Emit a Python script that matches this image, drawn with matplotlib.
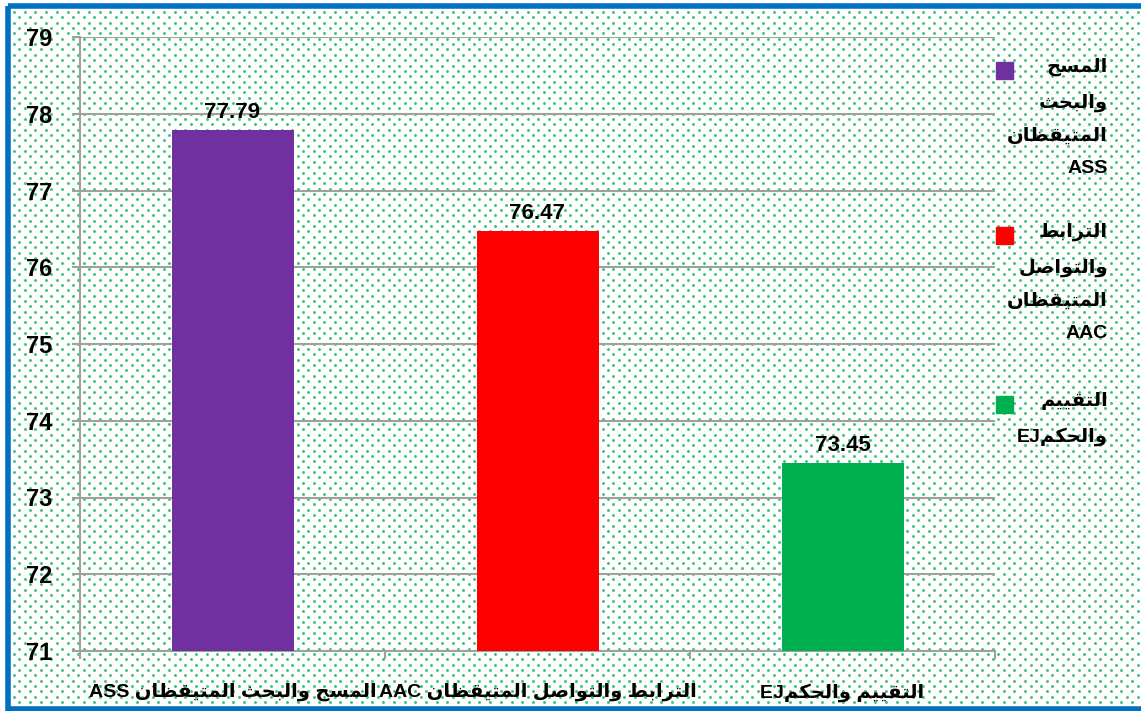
import re
import numpy as np
import matplotlib
matplotlib.use("Agg")
import matplotlib.pyplot as plt
from matplotlib.patches import Rectangle

# data
categories = ['المسح والبحث المتيقظان ASS',
              'الترابط والتواصل المتيقظان AAC',
              'التقييم والحكمEJ']
values = [77.79, 76.47, 73.45]
colors = ['#7030A0', '#FF0000', '#00B050']
legend_lines = [['المسح', 'والبحث', 'المتيقظان', 'ASS'],
                ['الترابط', 'والتواصل', 'المتيقظان', 'AAC'],
                ['التقييم', 'والحكمEJ']]
yticks = [71, 72, 73, 74, 75, 76, 77, 78, 79]

# minimal arabic shaping (isolated, final, initial, medial)
FORMS = {
    'ا': (0xFE8D, 0xFE8E, None, None),
    'ب': (0xFE8F, 0xFE90, 0xFE91, 0xFE92),
    'ت': (0xFE95, 0xFE96, 0xFE97, 0xFE98),
    'ث': (0xFE99, 0xFE9A, 0xFE9B, 0xFE9C),
    'ح': (0xFEA1, 0xFEA2, 0xFEA3, 0xFEA4),
    'ر': (0xFEAD, 0xFEAE, None, None),
    'س': (0xFEB1, 0xFEB2, 0xFEB3, 0xFEB4),
    'ص': (0xFEB9, 0xFEBA, 0xFEBB, 0xFEBC),
    'ط': (0xFEC1, 0xFEC2, 0xFEC3, 0xFEC4),
    'ظ': (0xFEC5, 0xFEC6, 0xFEC7, 0xFEC8),
    'ق': (0xFED5, 0xFED6, 0xFED7, 0xFED8),
    'ك': (0xFED9, 0xFEDA, 0xFEDB, 0xFEDC),
    'ل': (0xFEDD, 0xFEDE, 0xFEDF, 0xFEE0),
    'م': (0xFEE1, 0xFEE2, 0xFEE3, 0xFEE4),
    'ن': (0xFEE5, 0xFEE6, 0xFEE7, 0xFEE8),
    'و': (0xFEED, 0xFEEE, None, None),
    'ي': (0xFEF1, 0xFEF2, 0xFEF3, 0xFEF4),
}


def shape(s):
    out = []
    for i, ch in enumerate(s):
        f = FORMS.get(ch)
        if f is None:
            out.append(ch)
            continue
        prev = s[i - 1] if i > 0 else ''
        nxt = s[i + 1] if i + 1 < len(s) else ''
        jp = prev in FORMS and FORMS[prev][2] is not None
        jn = f[2] is not None and nxt in FORMS
        if jp and jn:
            out.append(chr(f[3]))
        elif jp:
            out.append(chr(f[1]))
        elif jn:
            out.append(chr(f[2]))
        else:
            out.append(chr(f[0]))
    return ''.join(out)


def visual(text):
    # rtl paragraph: reverse runs, latin runs keep their order
    runs = re.findall(r'[A-Za-z0-9.]+|[^A-Za-z0-9.]+', text)
    out = []
    for r in reversed(runs):
        if re.match(r'[A-Za-z0-9.]', r):
            out.append(r)
        else:
            out.append(shape(r)[::-1])
    return ''.join(out)


FONT = ['Liberation Sans', 'DejaVu Sans']
plt.rcParams['font.family'] = FONT
plt.rcParams['font.weight'] = 'bold'

W, H = 1141, 711
fig = plt.figure(figsize=(W / 100, H / 100), dpi=100)


def px(x, y):
    return x / W, 1 - y / H


# background: white with green dots and blue frame
bg = fig.add_axes([0, 0, 1, 1])
bg.set_xlim(0, W)
bg.set_ylim(H, 0)
bg.axis('off')
dx, dy = 10.7, 5.35
pts = []
for r, yy in enumerate(np.arange(12, H, dy)):
    xs = np.arange(14 + (r % 2) * dx / 2, W, dx)
    pts.append(np.column_stack([xs, np.full(len(xs), yy)]))
pts = np.vstack(pts)
bg.scatter(pts[:, 0], pts[:, 1], s=4.5, color='#3CC47C', linewidths=0, zorder=1)
bg.add_patch(Rectangle((7.5, 5.5), W + 10, 703, fill=False,
                       edgecolor='#0070C0', linewidth=4, zorder=2))

# main chart
l, b = px(80, 651)
r_, t = px(995, 37)
ax = fig.add_axes([l, b, r_ - l, t - b], facecolor='none')
x = np.arange(len(categories))
ax.bar(x, [v - 71 for v in values], bottom=71, width=0.4, color=colors, zorder=3)
for xi, v in zip(x, values):
    ax.annotate(f'{v:.2f}', (xi, v), xytext=(0, 5), textcoords='offset points',
                ha='center', va='bottom', fontsize=16, fontweight='bold')

ax.set_xlim(-0.5, len(categories) - 0.5)
ax.set_ylim(71, 79)
ax.set_yticks(yticks)
ax.set_yticklabels([str(v) for v in yticks], fontsize=17, fontweight='bold')
ax.set_xticks(x)
ax.set_xticklabels([visual(c) for c in categories], fontsize=14, fontweight='bold')
ax.set_xticks(np.arange(-0.5, len(categories)), minor=True)
ax.tick_params(axis='x', which='major', length=0, pad=23)
ax.tick_params(axis='x', which='minor', length=6, width=1.5, color='#A0A0A0')
ax.tick_params(axis='y', length=6, width=1.5, color='#A0A0A0', pad=14)
ax.grid(axis='y', color='#A0A0A0', linewidth=1.5, zorder=0)
ax.set_axisbelow(True)
for s in ['top', 'right']:
    ax.spines[s].set_visible(False)
for s in ['left', 'bottom']:
    ax.spines[s].set_color('#A0A0A0')
    ax.spines[s].set_linewidth(1.5)

# legend drawn by hand, marker beside the first line
leg_top = [58, 223, 392]
for lines, c, ty in zip(legend_lines, colors, leg_top):
    fig.text(*px(1108, ty), '\n'.join(visual(s) for s in lines), ha='right',
             va='top', multialignment='right', fontsize=14, fontweight='bold',
             linespacing=2.2)
    fig.patches.append(Rectangle(px(996, ty + 21), 17 / W, 17 / H, color=c,
                                 transform=fig.transFigure, figure=fig))

fig.savefig('out.png', dpi=100, facecolor='white')
